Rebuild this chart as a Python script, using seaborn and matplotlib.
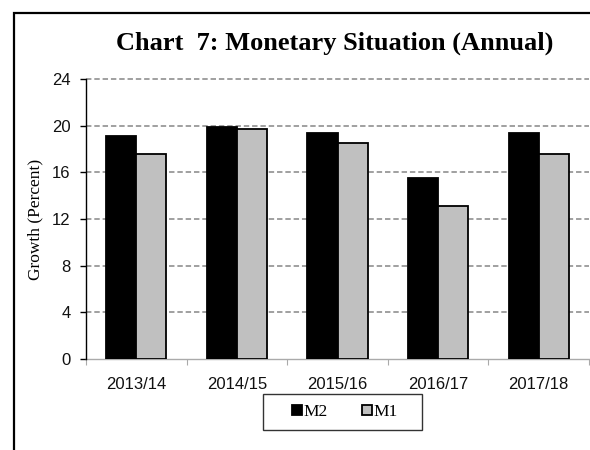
import numpy as np
import pandas as pd
import matplotlib
matplotlib.use("Agg")
import matplotlib.pyplot as plt
from matplotlib.patches import Rectangle
import seaborn as sns

# data
years = ["2013/14", "2014/15", "2015/16", "2016/17", "2017/18"]
m2 = [19.1, 19.9, 19.4, 15.5, 19.4]
m1 = [17.6, 19.7, 18.5, 13.1, 17.6]
series = ["M2", "M1"]
yticks = [0, 4, 8, 12, 16, 20, 24]

W, H = 590, 450


def main():
    sns.set_theme(style="white")
    plt.rcParams["font.family"] = ["Liberation Sans", "DejaVu Sans"]
    plt.rcParams["text.color"] = "black"

    df = pd.DataFrame({
        "year": years * 2,
        "series": ["M2"] * len(years) + ["M1"] * len(years),
        "value": m2 + m1,
    })

    fig = plt.figure(figsize=(W / 100, H / 100), dpi=100)
    ax = fig.add_axes([86 / W, 1 - 359 / H, 503 / W, 280 / H])

    sns.barplot(data=df, x="year", y="value", hue="series", hue_order=series,
                palette=["black", "#c0c0c0"], edgecolor="black", linewidth=1.3,
                width=0.6, gap=0, errorbar=None, ax=ax, zorder=3)

    ax.set_ylim(0, 24)
    ax.set_xlim(-0.5, len(years) - 0.5)
    ax.set_yticks(yticks)
    ax.set_yticklabels([str(t) for t in yticks], fontsize=12)
    ax.set_xlabel("")
    ax.set_ylabel("Growth (Percent)", family="Liberation Serif", fontsize=12.5,
                  color="black", labelpad=6)

    # dashed grey gridlines
    for t in yticks[1:]:
        ax.axhline(t, color="#999999", lw=1.3, dashes=(3, 1.6), zorder=1, clip_on=False)

    for p in ["top", "right"]:
        ax.spines[p].set_visible(False)
    ax.spines["left"].set_color("black")
    ax.spines["left"].set_linewidth(1.0)
    ax.spines["left"].set_zorder(4)
    ax.spines["bottom"].set_color("#aaaaaa")
    ax.spines["bottom"].set_linestyle((0, (1, 1)))
    ax.spines["bottom"].set_linewidth(1.0)

    ax.tick_params(axis="y", left=True, length=4, width=1, color="black", pad=7,
                   labelcolor="#111111")
    ax.tick_params(axis="x", bottom=False, labelsize=12, pad=7, labelcolor="#111111")
    ax.set_xticks(np.arange(-0.5, len(years), 1.0), minor=True)
    ax.tick_params(axis="x", which="minor", bottom=True, length=4, width=0.8, color="#aaaaaa")

    # legend in its own box below the plot
    handles, labels = ax.get_legend_handles_labels()
    ax.get_legend().remove()
    fig.add_artist(Rectangle((263 / W, 1 - 430 / H), 159 / W, 36 / H,
                             transform=fig.transFigure, fill=False,
                             edgecolor="#333333", lw=1.0))
    fig.legend(handles, labels, loc="center", bbox_to_anchor=(345 / W, 1 - 412 / H),
               ncol=2, frameon=False, handlelength=0.55, handleheight=0.55,
               handletextpad=0.1, columnspacing=2.0,
               prop={"family": "Liberation Serif", "size": 12.5})

    fig.text(335 / W, 1 - 43 / H, "Chart  7: Monetary Situation (Annual)",
             ha="center", va="center", fontsize=19, fontweight="bold",
             family="Liberation Serif", color="black")

    # outer frame, cut off at right and bottom like the original
    fig.add_artist(Rectangle((14 / W, -0.5), 2.0, 0.5 + 1 - 13 / H,
                             transform=fig.transFigure, fill=False,
                             edgecolor="black", lw=1.6, clip_on=False))

    fig.savefig("out.png", dpi=100)


if __name__ == "__main__":
    main()
